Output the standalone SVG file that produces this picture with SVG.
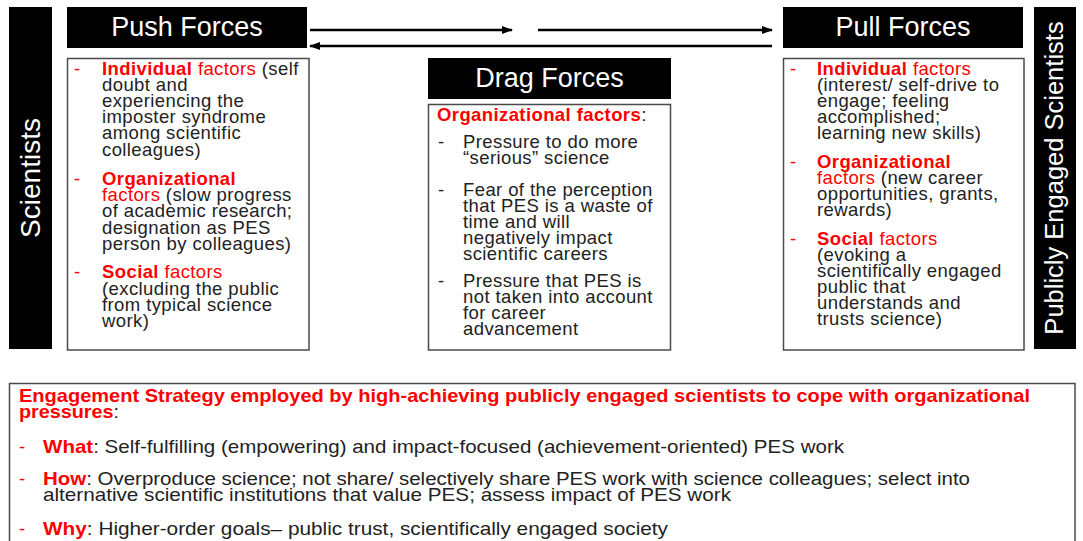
<svg xmlns="http://www.w3.org/2000/svg" width="1083" height="541" viewBox="0 0 1083 541">
  <style>
    .bar { fill: #000; }
    .hdr { fill: #000; }
    .box { fill: #fff; stroke: #4a4a4a; stroke-width: 1.5; }
    .title { font-family: "Liberation Sans", Arial, sans-serif; font-size: 27px; fill: #fff; }
    .side { font-family: "Liberation Sans", Arial, sans-serif; fill: #fff; }
    .t { font-family: "Liberation Sans", Arial, sans-serif; font-size: 18.5px; fill: #222; letter-spacing: 0.4px; }
    .s { font-family: "Liberation Sans", Arial, sans-serif; font-size: 18.5px; fill: #222; }
    .r { fill: #f00; }
    .rb { fill: #f00; font-weight: bold; }
    .arrow { stroke: #000; stroke-width: 2.5; fill: none; }
  </style>
  <defs>
    <marker id="head" markerUnits="userSpaceOnUse" markerWidth="11" markerHeight="8" refX="10" refY="4" orient="auto">
      <path d="M0,0 L11,4 L0,8 z" fill="#000"/>
    </marker>
  </defs>

  <rect width="1083" height="541" fill="#fff"/>

  <!-- left side bar -->
  <g id="scientists">
    <rect class="bar" x="9" y="7" width="43" height="342"/>
    <text class="side" font-size="28" transform="translate(40,178) rotate(-90)" text-anchor="middle">Scientists</text>
  </g>

  <!-- right side bar -->
  <g id="publicly-engaged">
    <rect class="bar" x="1034" y="7" width="42" height="342"/>
    <text class="side" font-size="25.5" transform="translate(1063,178) rotate(-90)" text-anchor="middle">Publicly Engaged Scientists</text>
  </g>

  <!-- push forces -->
  <g id="push">
    <rect class="hdr" x="67" y="7" width="240" height="41"/>
    <text class="title" x="187" y="36" text-anchor="middle">Push Forces</text>
    <rect class="box" x="67.5" y="58.5" width="241.5" height="291.5"/>
    <g class="t">
      <text x="74" y="75" class="r">-</text>
      <text x="102" y="75"><tspan class="rb">Individual</tspan><tspan class="r">  factors</tspan> (self</text>
      <text x="102" y="91">doubt and</text>
      <text x="102" y="107">experiencing the</text>
      <text x="102" y="123">imposter syndrome</text>
      <text x="102" y="139">among scientific</text>
      <text x="102" y="156">colleagues)</text>
      <text x="74" y="185" class="r">-</text>
      <text x="102" y="185" class="rb">Organizational</text>
      <text x="102" y="201"><tspan class="r">factors</tspan> (slow progress</text>
      <text x="102" y="217">of academic research;</text>
      <text x="102" y="234">designation as PES</text>
      <text x="102" y="250">person by colleagues)</text>
      <text x="74" y="278" class="r">-</text>
      <text x="102" y="278"><tspan class="rb">Social</tspan><tspan class="r"> factors</tspan></text>
      <text x="102" y="295">(excluding the public</text>
      <text x="102" y="311">from typical science</text>
      <text x="102" y="327">work)</text>
    </g>
  </g>

  <!-- drag forces -->
  <g id="drag">
    <rect class="hdr" x="428" y="58" width="243" height="41"/>
    <text class="title" x="549.5" y="87" text-anchor="middle">Drag Forces</text>
    <rect class="box" x="428.5" y="104.5" width="242" height="245.5"/>
    <g class="t">
      <text x="437" y="121"><tspan class="rb">Organizational factors</tspan>:</text>
      <text x="438" y="148">-</text>
      <text x="463" y="148">Pressure to do more</text>
      <text x="463" y="164">“serious” science</text>
      <text x="438" y="196">-</text>
      <text x="463" y="196">Fear of the perception</text>
      <text x="463" y="212">that PES is a waste of</text>
      <text x="463" y="228">time and will</text>
      <text x="463" y="244">negatively impact</text>
      <text x="463" y="260">scientific careers</text>
      <text x="438" y="287">-</text>
      <text x="463" y="287">Pressure that PES is</text>
      <text x="463" y="303">not taken into account</text>
      <text x="463" y="319">for career</text>
      <text x="463" y="335">advancement</text>
    </g>
  </g>

  <!-- pull forces -->
  <g id="pull">
    <rect class="hdr" x="783" y="7" width="240" height="41"/>
    <text class="title" x="903" y="36" text-anchor="middle">Pull Forces</text>
    <rect class="box" x="783.5" y="58.5" width="240.5" height="291.5"/>
    <g class="t">
      <text x="790" y="75" class="r">-</text>
      <text x="817" y="75"><tspan class="rb">Individual</tspan><tspan class="r">  factors</tspan></text>
      <text x="817" y="91">(interest/ self-drive to</text>
      <text x="817" y="107">engage; feeling</text>
      <text x="817" y="123">accomplished;</text>
      <text x="817" y="139">learning new skills)</text>
      <text x="790" y="168" class="r">-</text>
      <text x="817" y="168" class="rb">Organizational</text>
      <text x="817" y="184"><tspan class="r">factors</tspan> (new career</text>
      <text x="817" y="200">opportunities, grants,</text>
      <text x="817" y="216">rewards)</text>
      <text x="790" y="245" class="r">-</text>
      <text x="817" y="245"><tspan class="rb">Social</tspan><tspan class="r"> factors</tspan></text>
      <text x="817" y="261">(evoking a</text>
      <text x="817" y="277">scientifically engaged</text>
      <text x="817" y="293">public that</text>
      <text x="817" y="309">understands and</text>
      <text x="817" y="325">trusts science)</text>
    </g>
  </g>

  <!-- engagement strategy -->
  <g id="strategy">
    <rect class="box" x="9.5" y="383.5" width="1065.5" height="170"/>
    <g class="s">
      <text x="19" y="402" class="rb" textLength="1011" lengthAdjust="spacingAndGlyphs">Engagement Strategy employed by high-achieving publicly engaged scientists to cope with organizational</text>
      <text x="19" y="418" textLength="100" lengthAdjust="spacingAndGlyphs"><tspan class="rb">pressures</tspan>:</text>
      <text x="19" y="453" class="r">-</text>
      <text x="43" y="453" textLength="801" lengthAdjust="spacingAndGlyphs"><tspan class="rb">What</tspan>: Self-fulfilling (empowering) and impact-focused (achievement-oriented) PES work</text>
      <text x="19" y="485" class="r">-</text>
      <text x="43" y="485" textLength="927" lengthAdjust="spacingAndGlyphs"><tspan class="rb">How</tspan>: Overproduce science; not share/ selectively share PES work with science colleagues; select into</text>
      <text x="43" y="501" textLength="688" lengthAdjust="spacingAndGlyphs">alternative scientific institutions that value PES; assess impact of PES work</text>
      <text x="19" y="535" class="r">-</text>
      <text x="43" y="535" textLength="625" lengthAdjust="spacingAndGlyphs"><tspan class="rb">Why</tspan>: Higher-order goals– public trust, scientifically engaged society</text>
    </g>
  </g>

  <!-- connectors -->
  <g id="connectors">
    <line class="arrow" x1="310" y1="30" x2="512" y2="30" marker-end="url(#head)"/>
    <line class="arrow" x1="538" y1="30" x2="772" y2="30" marker-end="url(#head)"/>
    <line class="arrow" x1="772" y1="46" x2="310" y2="46" marker-end="url(#head)"/>
  </g>
</svg>
